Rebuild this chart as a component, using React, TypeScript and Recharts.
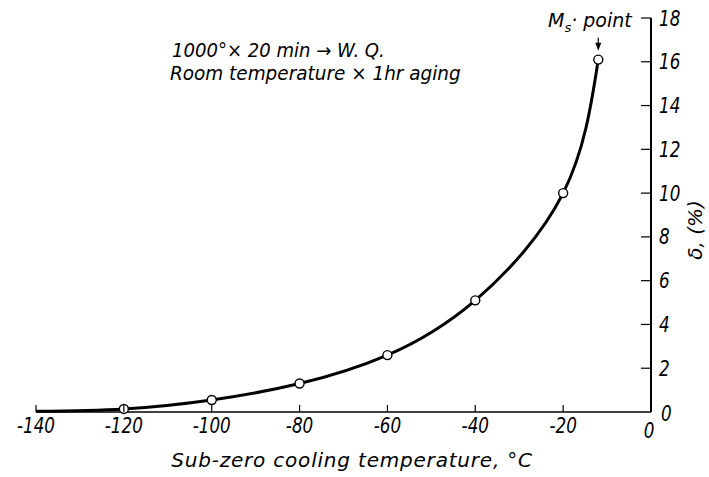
import { LineChart, Line, XAxis, YAxis, ReferenceLine, ReferenceDot } from 'recharts';

// sub-zero cooling temperature (°C) and δ (%)
const temps = [-140, -120, -100, -80, -60, -40, -20, -12];
const delta = [0.03, 0.14, 0.55, 1.3, 2.6, 5.1, 10, 16.1];
const xTicks = [-140, -120, -100, -80, -60, -40, -20, 0];
const yTicks = [0, 2, 4, 6, 8, 10, 12, 14, 16, 18];

const data = temps.map((t, i) => ({ t, d: delta[i] }));

const FONT = "'DejaVu Sans', sans-serif";

// italic text squeezed horizontally, like the hand lettering of the original
const Narrow = ({ x, y, size, sx = 0.8, anchor = 'start', children }: any) => (
  <text
    transform={`translate(${x},${y}) scale(${sx},1)`}
    textAnchor={anchor}
    fontFamily={FONT}
    fontStyle="italic"
    fontSize={size}
    fill="#000"
  >
    {children}
  </text>
);

const XTick = (props: any) => {
  const { x, y, payload } = props;
  const v = payload.value;
  return (
    <g>
      {v < 0 && <line x1={x} x2={x} y1={y} y2={y - 7} stroke="#000" strokeWidth={1.2} />}
      {v === 0 ? (
        <Narrow x={x - 2} y={y + 26} size={21} anchor="middle">0</Narrow>
      ) : (
        <Narrow x={x} y={y + 21} size={21} anchor="middle">{String(v)}</Narrow>
      )}
    </g>
  );
};

const YTick = (props: any) => {
  const { x, y, payload } = props;
  const v = payload.value;
  return (
    <g>
      {v > 0 && <line x1={x} x2={x - 10} y1={y} y2={y} stroke="#000" strokeWidth={1.2} />}
      <Narrow x={v === 0 ? x + 10 : x + 8} y={v === 0 ? y + 9 : y + 7.5} size={21}>{String(v)}</Narrow>
    </g>
  );
};

const Dot = (props: any) => {
  const { cx, cy, index } = props;
  if (index === 0) return <g key={index} />;
  return <circle key={index} cx={cx} cy={cy} r={4.5} fill="#fff" stroke="#000" strokeWidth={1.4} />;
};

const Arrow = (props: any) => {
  const { cx, cy } = props;
  return <path d={`M${cx - 3},${cy - 8} L${cx},${cy} L${cx + 3},${cy - 8} Z`} fill="#000" />;
};

export default function App() {
  return (
    <div style={{ position: 'absolute', left: 0, top: 0, width: 709, height: 477, background: '#fff' }}>
      <LineChart width={709} height={477} data={data} margin={{ top: 18, right: 8, bottom: 7, left: 36 }}>
        <XAxis
          dataKey="t"
          type="number"
          domain={[-140, 0]}
          ticks={xTicks}
          tick={<XTick />}
          tickLine={false}
          tickSize={0}
          tickMargin={0}
          height={58}
          axisLine={{ stroke: '#000', strokeWidth: 1.5 }}
        />
        <YAxis
          orientation="right"
          type="number"
          domain={[0, 18]}
          ticks={yTicks}
          tick={<YTick />}
          tickLine={false}
          tickSize={0}
          tickMargin={0}
          width={50}
          axisLine={{ stroke: '#000', strokeWidth: 2 }}
        />
        <ReferenceLine segment={[{ x: -12, y: 17.1 }, { x: -12, y: 16.7 }]} stroke="#000" strokeWidth={1.2} />
        <ReferenceDot x={-12} y={16.5} shape={<Arrow />} />
        <Line
          type="natural"
          dataKey="d"
          stroke="#000"
          strokeWidth={3}
          dot={<Dot />}
          activeDot={false}
          isAnimationActive={false}
        />
      </LineChart>
      <svg width={709} height={477} style={{ position: 'absolute', left: 0, top: 0, pointerEvents: 'none' }}>
        <Narrow x={172} y={57} size={19} sx={0.95}>1000°× 20 min → W. Q.</Narrow>
        <Narrow x={170} y={80} size={19} sx={0.97}>Room temperature × 1hr aging</Narrow>
        <text x={548} y={27} fontFamily={FONT} fontStyle="italic" fontSize={19} fill="#000">
          M<tspan fontSize={13} dy={5}>s</tspan><tspan dy={-5}>· point</tspan>
        </text>
        <text x={352} y={467} fontFamily={FONT} fontStyle="italic" fontSize={20} letterSpacing={0.8} textAnchor="middle" fill="#000">
          Sub-zero cooling temperature, °C
        </text>
        <text x={0} y={0} fontFamily={FONT} fontStyle="italic" fontSize={20} textAnchor="middle" fill="#000" transform="translate(702,230) rotate(-90)">
          δ, (%)
        </text>
      </svg>
    </div>
  );
}
